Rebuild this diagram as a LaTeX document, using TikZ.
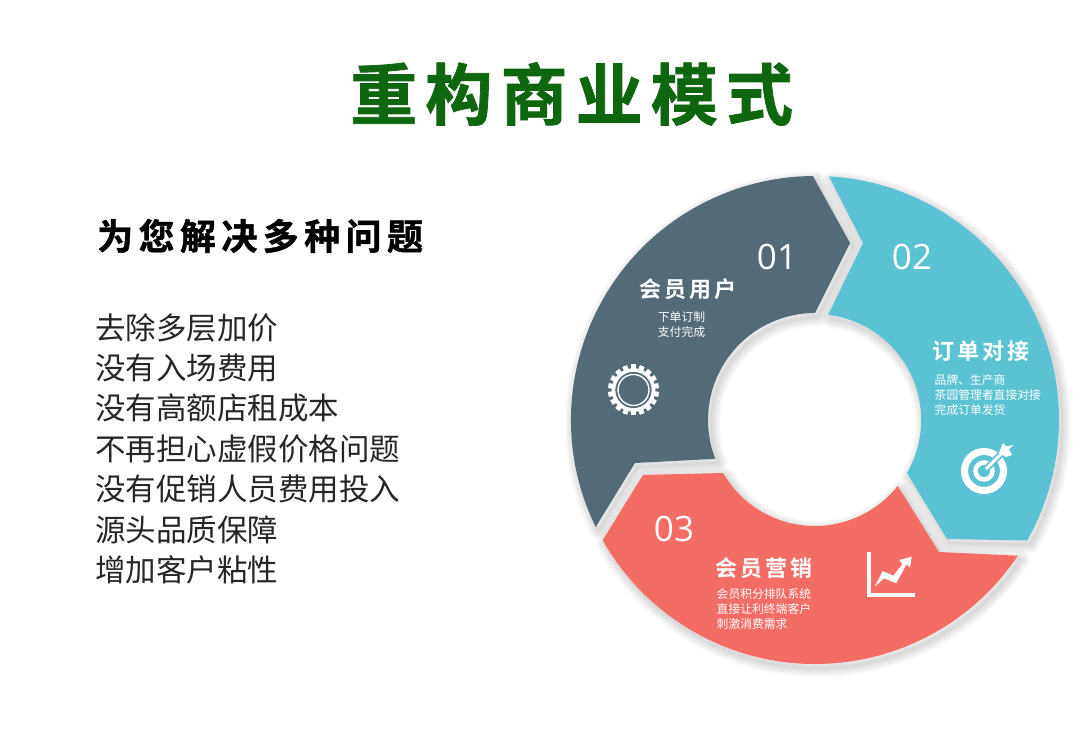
\documentclass[tikz,border=0pt]{standalone}
\usepackage{fontspec}
\setmainfont{Noto Sans CJK SC}
\newfontfamily\titlefont[LetterSpace=12.2,FakeBold=1.2]{Noto Sans CJK SC Bold}
\newfontfamily\subfont[LetterSpace=15,FakeBold=1.2]{Noto Sans CJK SC Bold}
\newfontfamily\labelfont[LetterSpace=14]{Noto Sans CJK SC Bold}
\newfontfamily\numfont{Open Sans}
\definecolor{darkseg}{HTML}{546A76}
\definecolor{tealseg}{HTML}{5BC2D3}
\definecolor{redseg}{HTML}{F46D65}
\definecolor{titlegreen}{HTML}{0E660E}
\def\darkpath{(815,335) ++(206:244) arc[start angle=206,end angle=90.5,radius=244] -- (850,512) -- (815,442) arc[start angle=90,end angle=201.3,radius=107] -- (635,292) -- cycle}
\def\tealpath{(815,335) ++(86.7:244) arc[start angle=86.7,end angle=-29.6,radius=244] -- (947,216) -- (907,282) arc[start angle=-30,end angle=83,radius=106] -- (863,512) -- cycle}
\def\redpath{(815,335) ++(-33.8:244) arc[start angle=-33.8,end angle=-150.5,radius=244] -- (643,280) -- (723,282) arc[start angle=210,end angle=321.5,radius=106] -- (939,203) -- cycle}
\newcommand\softshadow[1]{%
  \foreach \w in {1,2.5,...,20}{\draw[black,opacity=.012,line width=\w pt,line join=round,shift={(3,-4)}] #1;}%
}
\tikzset{
  num/.style={text=white,font=\numfont\fontsize{35}{35}\selectfont,inner sep=0pt},
  head/.style={text=white,anchor=west,inner sep=0pt,font=\labelfont\fontsize{22}{24}\selectfont},
  small/.style={text=white,anchor=west,inner sep=0pt,align=left,font=\fontsize{11.8}{15}\selectfont},
}
\begin{document}
\begin{tikzpicture}[x=1pt,y=1pt]
\useasboundingbox (0,0) rectangle (1080,755);
\fill[white] (0,0) rectangle (1080,755);
% title and left text
\node[anchor=west,inner sep=0pt,text=titlegreen,font=\titlefont\fontsize{67}{70}\selectfont] (title) at (350,661) {重构商业模式};
\node[anchor=west,inner sep=0pt,text=black,font=\subfont\fontsize{36}{38}\selectfont] (sub) at (97,519) {为您解决多种问题};
\node[anchor=north west,inner sep=0pt,text=black!85,align=left,font=\fontsize{30.5}{40.4}\selectfont] (list) at (95,442) {去除多层加价\\没有入场费用\\没有高额店租成本\\不再担心虚假价格问题\\没有促销人员费用投入\\源头品质保障\\增加客户粘性};
% segments
\softshadow{\redpath}
\softshadow{\tealpath}
\softshadow{\darkpath}
\fill[redseg] \redpath;
\fill[tealseg] \tealpath;
\fill[darkseg] \darkpath;
% numbers
\node[num] (n1) at (777,498) {01};
\node[num] (n2) at (912,498) {02};
\node[num] (n3) at (674,226) {03};
% labels
\node[head] (h1) at (639.5,466) {会员用户};
\node[small,align=center,anchor=center] (s1) at (681.5,430) {下单订制\\支付完成};
\node[head] (h2) at (932,404) {订单对接};
\node[small] (s2) at (934.5,360) {品牌、生产商\\茶园管理者直接对接\\完成订单发货};
\node[head] (h3) at (715.5,187) {会员营销};
\node[small] (s3) at (716.5,146) {会员积分排队系统\\直接让利终端客户\\刺激消费需求};
% gear icon
\coordinate (g) at (633.5,365);
\foreach \a in {0,20,...,340}{\fill[white,rotate around={\a:(g)}] (631,365+20) rectangle (636,365+25.5);}
\draw[white,line width=3.6] (g) circle (20);
\draw[white,line width=1.4] (g) circle (15.5);
% target icon
\coordinate (t) at (984,284);
\draw[white,line width=7] (t) circle (19.5);
\draw[white,line width=4.5] (t) circle (8.5);
\draw[tealseg,line width=6.5] (987,287) -- (1003,303);
\draw[white,line width=3] (986,286) -- (1003,303);
\fill[white] (999,302) -- (1003,312) -- (1006,308.5) -- (1013,310) -- (1009,305.5) -- (1012,300) -- (1006,298) -- cycle;
% chart icon
\draw[white,line width=3.6] (869,203) -- (869,159.8) -- (915,159.8);
\fill[white] (874.7,168.3) -- (882.7,184) -- (893.3,179.3) -- (902.3,190.7) -- (899.3,195) -- (911.7,198.3) -- (910,187.3) -- (906.7,190.7) -- (896,171.7) -- (884,176.7) -- cycle;
\end{tikzpicture}
\end{document}
